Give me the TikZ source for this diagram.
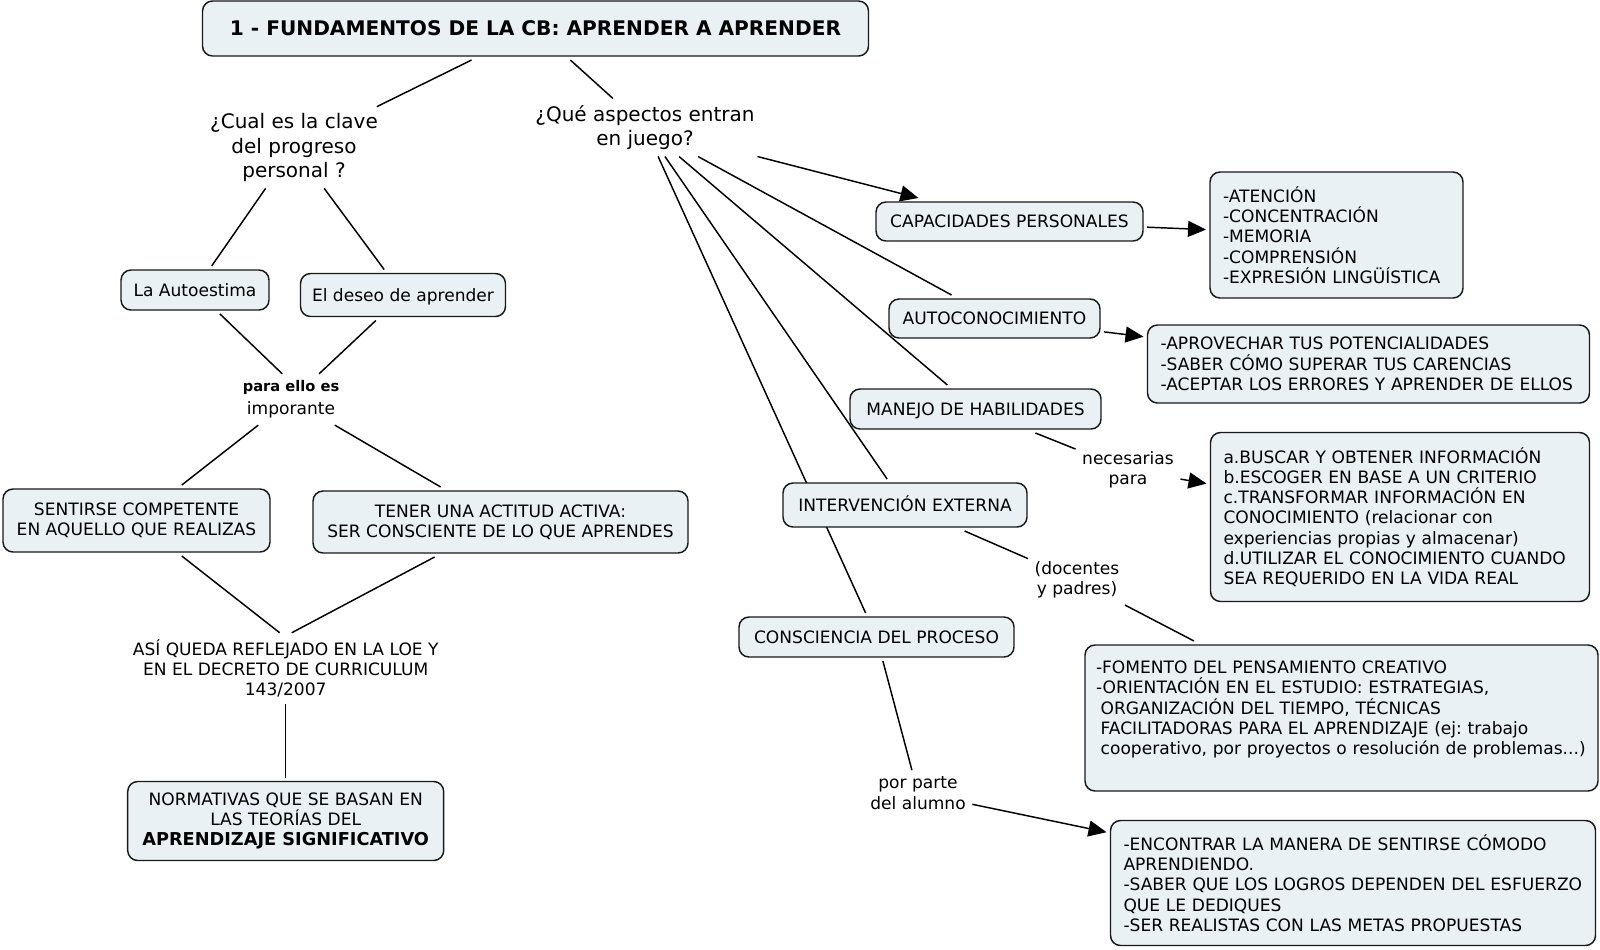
\documentclass[tikz,border=0pt]{standalone}
\usepackage{fontspec}
\setmainfont{DejaVu Sans}
\usetikzlibrary{arrows.meta}
\definecolor{boxfill}{RGB}{233,241,244}
\definecolor{boxline}{RGB}{25,25,25}
\pgfdeclarelayer{bg}
\pgfsetlayers{bg,main}
\def\pxu{0.75pt}
\frenchspacing
\begin{document}
\begin{tikzpicture}[x=0.75pt,y=-0.75pt,
  box/.style={draw=boxline, fill=boxfill, line width=1.1pt, rounded corners=7.5pt,
    inner sep=0pt, outer sep=3pt, align=center, font=\fontsize{12.8}{15.2}\selectfont},
  lbox/.style={box, align=left, inner xsep=13*\pxu},
  one/.style={text height=9.3pt, text depth=0pt},
  txt/.style={inner sep=2pt, outer sep=3pt, align=center, font=\fontsize{12.8}{15.2}\selectfont},
  qtxt/.style={txt, font=\fontsize{15}{18.4}\selectfont},
  conn/.style={line width=1.1pt, draw=black},
  arr/.style={conn, -{Triangle[length=13.5pt,width=12pt]}}
]
\useasboundingbox (0,0) rectangle (1600,950);
\begin{pgfonlayer}{bg}
\fill[white] (0,0) rectangle (1600,950);
\end{pgfonlayer}

% left part
\node[box, minimum width=666*\pxu, minimum height=55*\pxu, font=\fontsize{15.1}{18}\selectfont\bfseries, text height=11pt, text depth=0pt] (title) at (535.5,28.5) {1 - FUNDAMENTOS DE LA CB: APRENDER A APRENDER};
\node[qtxt] (q1) at (294,147.5) {¿Cual es la clave\\del progreso\\personal ?};
\node[qtxt] (q2) at (645,127.5) {¿Qué aspectos entran\\en juego?};
\node[box, one, minimum width=148*\pxu, minimum height=40*\pxu] (autoestima) at (195,290) {La Autoestima};
\node[box, one, minimum width=205*\pxu, minimum height=43*\pxu] (deseo) at (403,295) {El deseo de aprender};
\node[txt] (paraello) at (291,399.5) {{\fontsize{11}{14}\selectfont\bfseries para ello es}\\[2.2pt]imporante};
\node[box, minimum width=267*\pxu, minimum height=63*\pxu] (sentirse) at (136.5,520.5) {SENTIRSE COMPETENTE\\EN AQUELLO QUE REALIZAS};
\node[box, minimum width=375*\pxu, minimum height=62*\pxu] (tener) at (500.5,522) {TENER UNA ACTITUD ACTIVA:\\SER CONSCIENTE DE LO QUE APRENDES};
\node[txt] (asi) at (285.7,668.4) {ASÍ QUEDA REFLEJADO EN LA LOE Y\\EN EL DECRETO DE CURRICULUM\\143/2007};
\node[box, minimum width=316*\pxu, minimum height=79*\pxu] (normativas) at (285.7,821) {NORMATIVAS QUE SE BASAN EN\\LAS TEORÍAS DEL\\{\fontsize{13.3}{15.2}\selectfont\bfseries APRENDIZAJE SIGNIFICATIVO}};

% right part
\node[box, one, minimum width=267*\pxu, minimum height=39*\pxu] (capacidades) at (1009.5,221.5) {CAPACIDADES PERSONALES};
\node[lbox, text width=227*\pxu, minimum height=126*\pxu] (atencion) at (1336.5,235) {-ATENCIÓN\\-CONCENTRACIÓN\\-MEMORIA\\-COMPRENSIÓN\\-EXPRESIÓN LINGÜÍSTICA};
\node[box, one, minimum width=211*\pxu, minimum height=39*\pxu] (autocon) at (994.5,318.5) {AUTOCONOCIMIENTO};
\node[lbox, text width=416*\pxu, minimum height=78*\pxu] (aprovechar) at (1368.5,364) {-APROVECHAR TUS POTENCIALIDADES\\-SABER CÓMO SUPERAR TUS CARENCIAS\\-ACEPTAR LOS ERRORES Y APRENDER DE ELLOS};
\node[box, one, minimum width=251*\pxu, minimum height=40*\pxu] (manejo) at (975.5,409) {MANEJO DE HABILIDADES};
\node[txt] (necesarias) at (1128,470) {necesarias\\para};
\node[lbox, text width=353*\pxu, minimum height=169*\pxu] (buscar) at (1400,517) {a.BUSCAR Y OBTENER INFORMACIÓN\\b.ESCOGER EN BASE A UN CRITERIO\\c.TRANSFORMAR INFORMACIÓN EN\\CONOCIMIENTO (relacionar con\\experiencias propias y almacenar)\\d.UTILIZAR EL CONOCIMIENTO CUANDO\\SEA REQUERIDO EN LA VIDA REAL};
\node[box, one, minimum width=244*\pxu, minimum height=44*\pxu] (interv) at (905,505) {INTERVENCIÓN EXTERNA};
\node[txt] (docentes) at (1077,580) {(docentes\\y padres)};
\node[lbox, inner xsep=11*\pxu, text width=491*\pxu, minimum height=146*\pxu] (fomento) at (1341.5,718) {-FOMENTO DEL PENSAMIENTO CREATIVO\\-ORIENTACIÓN EN EL ESTUDIO: ESTRATEGIAS,\\\hspace*{3.5pt}ORGANIZACIÓN DEL TIEMPO, TÉCNICAS\\\hspace*{3.5pt}FACILITADORAS PARA EL APRENDIZAJE (ej: trabajo\\\hspace*{3.5pt}cooperativo, por proyectos o resolución de problemas...)\\\mbox{}};
\node[box, one, minimum width=275*\pxu, minimum height=40*\pxu] (consciencia) at (876.5,637) {CONSCIENCIA DEL PROCESO};
\node[txt] (porparte) at (918,793) {por parte\\del alumno};
\node[lbox, text width=459*\pxu, minimum height=125*\pxu] (encontrar) at (1353,883) {-ENCONTRAR LA MANERA DE SENTIRSE CÓMODO\\APRENDIENDO.\\-SABER QUE LOS LOGROS DEPENDEN DEL ESFUERZO\\QUE LE DEDIQUES\\-SER REALISTAS CON LAS METAS PROPUESTAS};

\begin{pgfonlayer}{bg}
\draw[conn] (title) -- (q1);
\draw[conn] (title) -- (q2);
\draw[conn] (q1) -- (autoestima);
\draw[conn] (q1) -- (deseo);
\draw[conn] (autoestima) -- ([xshift=-6.5pt]paraello.north);
\draw[conn] (deseo) -- ([xshift=21pt]paraello.north);
\draw[conn] (paraello) -- (sentirse);
\draw[conn] (paraello) -- (tener);
\draw[conn] (sentirse) -- ([xshift=-4.5pt]asi.north);
\draw[conn] (tener) -- ([xshift=4.5pt]asi.north);
\draw[conn] (asi) -- (normativas);
\draw[arr] (q2) -- (capacidades);
\draw[conn] (q2) -- (autocon);
\draw[conn] (q2) -- (manejo);
\draw[conn] (q2) -- (interv);
\draw[conn] (q2) -- (consciencia);
\draw[arr] (capacidades) -- (atencion);
\draw[arr] (autocon) -- (aprovechar);
\draw[conn] (manejo) -- (necesarias);
\draw[arr] (necesarias) -- (buscar);
\draw[conn] (interv) -- (docentes);
\draw[conn] (docentes) -- (fomento);
\draw[conn] (consciencia) -- (porparte);
\draw[arr] (porparte) -- (encontrar);
\end{pgfonlayer}
\end{tikzpicture}
\end{document}
